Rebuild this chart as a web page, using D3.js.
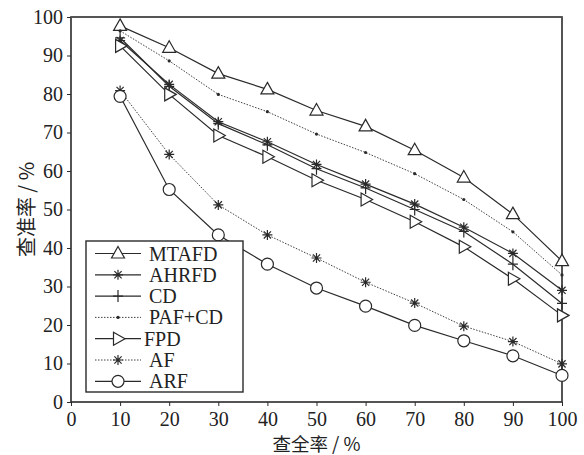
<!DOCTYPE html>
<html>
<head>
<meta charset="utf-8">
<script src="https://cdn.jsdelivr.net/npm/d3@7"></script>
<style>
  body { margin: 0; background: #fff; }
  svg text { font-family: "Liberation Serif", "DejaVu Serif", serif; fill: #222; }
  .cjk { font-family: "Noto Sans CJK SC", sans-serif; }
</style>
</head>
<body>
<div id="chart"></div>
<script>
// recall values (x axis) and tick labels
var recall = [10, 20, 30, 40, 50, 60, 70, 80, 90, 100];
var xTicks = [0, 10, 20, 30, 40, 50, 60, 70, 80, 90, 100];
var yTicks = [0, 10, 20, 30, 40, 50, 60, 70, 80, 90, 100];

// precision series
var mtafd  = [97.7, 92.0, 85.3, 81.2, 75.7, 71.6, 65.4, 58.3, 48.8, 36.6];
var ahrfd  = [93.9, 82.5, 72.8, 67.6, 61.7, 56.6, 51.4, 45.4, 38.6, 29.0];
var cd     = [94.6, 82.0, 72.3, 66.8, 60.6, 55.6, 50.0, 44.3, 35.8, 25.6];
var pafcd  = [96.4, 88.6, 79.9, 75.4, 69.6, 64.8, 59.3, 52.6, 44.2, 33.0];
var fpd    = [92.5, 79.9, 69.2, 63.7, 57.6, 52.6, 46.8, 40.3, 32.0, 22.5];
var af     = [80.9, 64.3, 51.2, 43.4, 37.4, 31.1, 25.7, 19.7, 15.7, 9.9];
var arf    = [79.4, 55.2, 43.4, 35.8, 29.6, 24.9, 19.9, 15.9, 12.0, 6.9];

var seriesNames = ["MTAFD", "AHRFD", "CD", "PAF+CD", "FPD", "AF", "ARF"];
var seriesVals = [mtafd, ahrfd, cd, pafcd, fpd, af, arf];
var seriesMarker = ["triUp", "star", "plus", "dot", "triRight", "star", "circle"];
var seriesDash = [false, false, false, true, false, true, false];

var width = 584, height = 455;
var margin = { top: 17, right: 22, bottom: 53, left: 71 };
var w = width - margin.left - margin.right,
    h = height - margin.top - margin.bottom;
var ink = "#2a2a2a";

var svg = d3.select("#chart").append("svg")
    .attr("width", width)
    .attr("height", height);

var g = svg.append("g")
    .attr("transform", "translate(" + margin.left + "," + margin.top + ")");

var x = d3.scaleLinear().domain([0, 100]).range([0, w]);
var y = d3.scaleLinear().domain([0, 100]).range([h, 0]);

// axes
var xAxis = d3.axisBottom(x).tickValues(xTicks).tickSize(4).tickPadding(6);
var yAxis = d3.axisLeft(y).tickValues(yTicks).tickSize(4).tickPadding(4);

var gx = g.append("g").attr("transform", "translate(0," + h + ")").call(xAxis);
var gy = g.append("g").call(yAxis);
[gx, gy].forEach(function(a) {
    a.select(".domain").remove();
    a.selectAll("line").attr("stroke", ink).attr("stroke-width", 1);
    a.selectAll("text").attr("font-size", 20).attr("fill", "#222")
        .attr("font-family", "'Liberation Serif', serif");
});

// frame
g.append("rect")
    .attr("width", w).attr("height", h)
    .attr("fill", "none").attr("stroke", ink).attr("stroke-width", 1.6);
g.append("line").attr("x1", 0).attr("x2", w).attr("y1", 0).attr("y2", 0)
    .attr("stroke", "#555").attr("stroke-width", 2.2);

// markers
function drawMarker(sel, type) {
    if (type == "triUp") {
        sel.append("path").attr("d", "M0,-7L6.5,4.5L-6.5,4.5Z")
            .attr("fill", "#fff").attr("stroke", ink).attr("stroke-width", 1.2);
    } else if (type == "triRight") {
        sel.append("path").attr("d", "M7,0L-4.5,-6.5L-4.5,6.5Z")
            .attr("fill", "#fff").attr("stroke", ink).attr("stroke-width", 1.2);
    } else if (type == "circle") {
        sel.append("circle").attr("r", 6)
            .attr("fill", "#fff").attr("stroke", ink).attr("stroke-width", 1.2);
    } else if (type == "dot") {
        sel.append("circle").attr("r", 1.6).attr("fill", ink);
    } else if (type == "plus") {
        sel.append("path").attr("d", "M-5,0H5M0,-6V6")
            .attr("stroke", ink).attr("stroke-width", 1.2);
    } else if (type == "star") {
        sel.append("path").attr("d", "M-5,0H5M0,-5V5M-3.6,-3.6L3.6,3.6M-3.6,3.6L3.6,-3.6")
            .attr("stroke", ink).attr("stroke-width", 1.2);
    }
}

var line = d3.line()
    .x(function(d, i) { return x(recall[i]); })
    .y(function(d) { return y(d); });

seriesVals.forEach(function(vals, k) {
    var sg = g.append("g");
    sg.append("path")
        .datum(vals)
        .attr("d", line)
        .attr("fill", "none")
        .attr("stroke", ink)
        .attr("stroke-width", seriesDash[k] ? 0.9 : 1.2)
        .attr("stroke-dasharray", seriesDash[k] ? "1.5,1.5" : null);
    sg.selectAll(".pt")
        .data(vals)
      .enter().append("g")
        .attr("transform", function(d, i) { return "translate(" + x(recall[i]) + "," + y(d) + ")"; })
        .each(function() { drawMarker(d3.select(this), seriesMarker[k]); });
});

// legend
var lg = g.append("g").attr("transform", "translate(15," + (241 - margin.top) + ")");
lg.append("rect").attr("width", 157).attr("height", 151)
    .attr("fill", "#fff").attr("stroke", ink).attr("stroke-width", 1.4);
seriesNames.forEach(function(name, k) {
    var row = lg.append("g").attr("transform", "translate(0," + (12.5 + k * 21.3) + ")");
    row.append("line").attr("x1", 9).attr("x2", 55).attr("y1", 0).attr("y2", 0)
        .attr("stroke", ink)
        .attr("stroke-width", seriesDash[k] ? 0.9 : 1.2)
        .attr("stroke-dasharray", seriesDash[k] ? "1.5,1.5" : null);
    var m = row.append("g").attr("transform", "translate(32,0)");
    drawMarker(m, seriesMarker[k]);
    row.append("text").attr("x", seriesMarker[k] == "triRight" ? 58 : 63).attr("y", 7)
        .attr("font-size", 20).text(name);
});

// axis titles
svg.append("text").attr("class", "cjk")
    .attr("x", margin.left + w / 2).attr("y", 451)
    .attr("text-anchor", "middle").attr("font-size", 18.5)
    .text("查全率 / %");
svg.append("text").attr("class", "cjk")
    .attr("transform", "translate(34," + (margin.top + h / 2) + ") rotate(-90)")
    .attr("text-anchor", "middle").attr("font-size", 20)
    .text("查准率 / %");
</script>
</body>
</html>
